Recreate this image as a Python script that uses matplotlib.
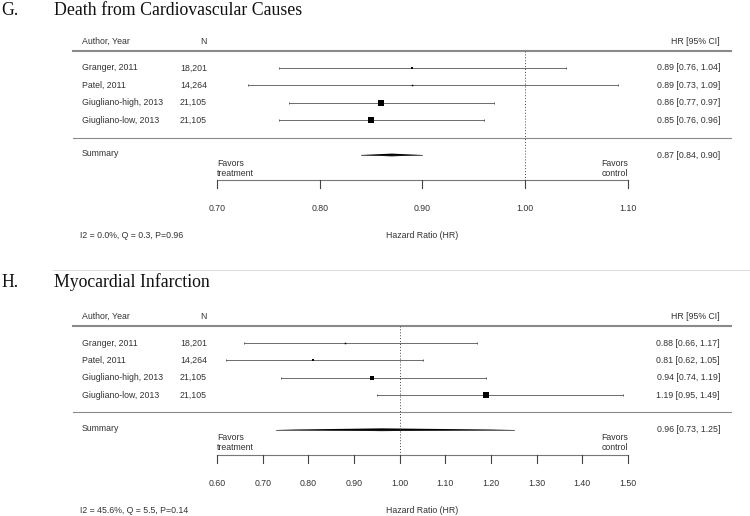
import numpy as np
import matplotlib
matplotlib.use("Agg")
import matplotlib.pyplot as plt
from matplotlib.transforms import blended_transform_factory
from matplotlib.lines import Line2D

plt.rcParams['font.family'] = ['Liberation Sans', 'DejaVu Sans']

# data
studies = ["Granger, 2011", "Patel, 2011", "Giugliano-high, 2013", "Giugliano-low, 2013"]
n_pts = ["18,201", "14,264", "21,105", "21,105"]

cvd_title = "Death from Cardiovascular Causes"
cvd_hr = [0.89, 0.89, 0.86, 0.85]
cvd_lo = [0.76, 0.73, 0.77, 0.76]
cvd_hi = [1.04, 1.09, 0.97, 0.96]
cvd_sum = [0.87, 0.84, 0.90]
cvd_het = "I2 = 0.0%, Q = 0.3, P=0.96"
cvd_ticks = [0.70, 0.80, 0.90, 1.00, 1.10]

mi_title = "Myocardial Infarction"
mi_hr = [0.88, 0.81, 0.94, 1.19]
mi_lo = [0.66, 0.62, 0.74, 0.95]
mi_hi = [1.17, 1.05, 1.19, 1.49]
mi_sum = [0.96, 0.73, 1.25]
mi_het = "I2 = 45.6%, Q = 5.5, P=0.14"
mi_ticks = [0.60, 0.70, 0.80, 0.90, 1.00, 1.10, 1.20, 1.30, 1.40, 1.50]

W, H = 750, 516
fig = plt.figure(figsize=(W / 100, H / 100), dpi=100)

txt = '#333333'
fs = 6.3


def px(x):
    return x / W


def panel(letter, title, hr, lo, hi, summ, het, ticks, row1, sp, top_px, bot_px, title_base):
    ax = fig.add_axes([217 / W, 1 - bot_px / H, 411 / W, (bot_px - top_px) / H])
    ax.axis('off')
    ax.set_xlim(ticks[0], ticks[-1])
    ax.set_ylim(1 + (bot_px - row1) / sp, 1 + (top_px - row1) / sp)
    tr = blended_transform_factory(fig.transFigure, ax.transData)

    fig.text(px(1), 1 - title_base / H, letter, family='Liberation Serif',
             fontsize=12.8, va='baseline', color='#111111')
    fig.text(px(54), 1 - title_base / H, title, family='Liberation Serif',
             fontsize=12.8, va='baseline', color='#111111')

    # header
    ax.text(px(82), -0.55, "Author, Year", transform=tr, fontsize=fs, color=txt, va='center')
    ax.text(px(207), -0.55, "N", transform=tr, fontsize=fs, color=txt, va='center', ha='right')
    ax.text(px(720), -0.55, "HR [95% CI]", transform=tr, fontsize=fs, color=txt, va='center', ha='right')
    ax.plot([px(73), px(731)], [0, 0], transform=tr, color='#8a8a8a', lw=1.5, clip_on=False)
    ax.plot([px(73), px(731)], [5, 5], transform=tr, color='#8a8a8a', lw=0.8, clip_on=False)

    # reference line
    ax.plot([1.0, 1.0], [0, 7.45], color='#444444', lw=0.7, ls=(0, (1, 2)), clip_on=False)

    # weights -> square size
    lo_a, hi_a = np.array(lo), np.array(hi)
    w = 1 / ((np.log(hi_a) - np.log(lo_a)) / 3.92) ** 2
    wn = (w - w.min()) / (w.max() - w.min())
    sizes = (1.5 + 4.5 * wn) * 0.72

    for i in range(len(hr)):
        y = i + 1
        ax.plot([lo[i], hi[i]], [y, y], color='#555555', lw=0.6, clip_on=False)
        ax.plot([lo[i], hi[i]], [y, y], ls='none', marker='|', ms=1.5, mew=0.6,
                color='#555555', clip_on=False)
        ax.plot(hr[i], y, marker='s', ms=sizes[i], color='black', mew=0, clip_on=False)
        ax.text(px(82), y, studies[i], transform=tr, fontsize=fs, color=txt, va='center')
        ax.text(px(207), y, n_pts[i], transform=tr, fontsize=fs, color=txt, va='center', ha='right')
        ax.text(px(720), y, f"{hr[i]:.2f} [{lo[i]:.2f}, {hi[i]:.2f}]", transform=tr,
                fontsize=fs, color=txt, va='center', ha='right')

    # summary
    ys = 6
    h = 0.08
    ax.fill([summ[1], summ[0], summ[2], summ[0]], [ys, ys - h, ys, ys + h],
            color='black', lw=0, clip_on=False)
    ax.plot([summ[1], summ[2]], [ys, ys], color='#222222', lw=0.5, clip_on=False)
    ax.text(px(82), ys - 0.1, "Summary", transform=tr, fontsize=fs, color=txt, va='center')
    ax.text(px(720), ys, f"{summ[0]:.2f} [{summ[1]:.2f}, {summ[2]:.2f}]", transform=tr,
            fontsize=fs, color=txt, va='center', ha='right')

    # axis
    ya = 7.45
    ax.plot([ticks[0], ticks[-1]], [ya, ya], color='#777777', lw=0.8, clip_on=False)
    for t in ticks:
        ax.plot([t, t], [ya, ya + 0.45], color='#444444', lw=0.8, clip_on=False)
        ax.text(t, 9.1, f"{t:.2f}", fontsize=fs, color=txt, ha='center', va='center')
    ax.text(ticks[0], 7.3, "Favors\ntreatment", fontsize=fs, color=txt, ha='left', va='bottom',
            linespacing=1.15)
    ax.text(ticks[-1], 7.3, "Favors\ncontrol", fontsize=fs, color=txt, ha='right', va='bottom',
            linespacing=1.15, multialignment='right')
    ax.text(0.5, 10.65, "Hazard Ratio (HR)", transform=blended_transform_factory(ax.transAxes, ax.transData),
            fontsize=fs, color=txt, ha='center', va='center')
    ax.text(px(80), 10.65, het, transform=tr, fontsize=fs, color=txt, va='center')
    return ax


panel("G.", cvd_title, cvd_hr, cvd_lo, cvd_hi, cvd_sum, cvd_het, cvd_ticks,
      68, 17.4, 20, 245, 15)
panel("H.", mi_title, mi_hr, mi_lo, mi_hi, mi_sum, mi_het, mi_ticks,
      343, 17.35, 295, 516, 287)

fig.add_artist(Line2D([px(53), 1], [1 - 270 / H, 1 - 270 / H], transform=fig.transFigure,
                      color='#dddddd', lw=0.8))

fig.savefig("out.png", dpi=100)
